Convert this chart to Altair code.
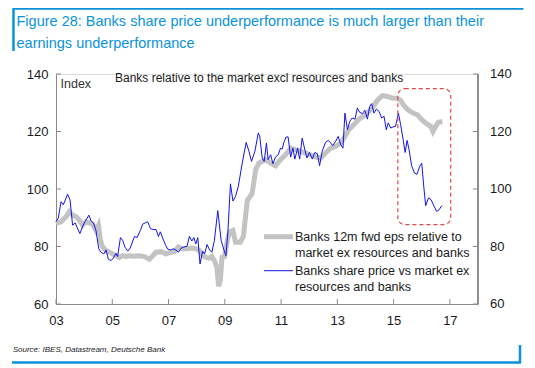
import altair as alt
import pandas as pd

# ---- data ----
blue_year = [2003.00, 2003.08, 2003.18, 2003.26, 2003.41, 2003.50, 2003.59, 2003.68, 2003.75, 2003.85,
             2003.95, 2004.03, 2004.17, 2004.25, 2004.33, 2004.42, 2004.52, 2004.60, 2004.70, 2004.78,
             2004.86, 2004.96, 2005.04, 2005.13, 2005.19, 2005.29, 2005.37, 2005.45, 2005.55, 2005.64,
             2005.79, 2005.88, 2006.00, 2006.08, 2006.17, 2006.26, 2006.36, 2006.45, 2006.56, 2006.64,
             2006.71, 2006.80, 2006.89, 2006.97, 2007.07, 2007.16, 2007.26, 2007.35, 2007.45, 2007.54,
             2007.66, 2007.74, 2007.83, 2007.90, 2007.97, 2008.04, 2008.12, 2008.21, 2008.28, 2008.37,
             2008.46, 2008.54, 2008.63, 2008.75, 2008.87, 2008.97, 2009.04, 2009.11, 2009.20, 2009.29,
             2009.38, 2009.48, 2009.62, 2009.76, 2009.86, 2009.95, 2010.07, 2010.19, 2010.24, 2010.33,
             2010.40, 2010.48, 2010.54, 2010.63, 2010.71, 2010.80, 2010.90, 2010.98, 2011.04, 2011.10,
             2011.18, 2011.25, 2011.34, 2011.42, 2011.49, 2011.59, 2011.66, 2011.75, 2011.84, 2011.92,
             2012.01, 2012.11, 2012.20, 2012.29, 2012.37, 2012.46, 2012.58, 2012.68, 2012.76, 2012.84,
             2012.94, 2013.03, 2013.12, 2013.20, 2013.27, 2013.36, 2013.44, 2013.53, 2013.63, 2013.71,
             2013.79, 2013.89, 2013.98, 2014.07, 2014.15, 2014.22, 2014.30, 2014.39, 2014.48, 2014.58,
             2014.66, 2014.74, 2014.81, 2014.90, 2014.98, 2015.07, 2015.17, 2015.25, 2015.34, 2015.41,
             2015.48, 2015.55, 2015.64, 2015.74, 2015.83, 2015.93, 2016.00, 2016.07, 2016.14, 2016.24,
             2016.33, 2016.44, 2016.53, 2016.62, 2016.71]
blue_val = [88.6, 89.8, 95.6, 94.5, 98.2, 96.2, 87.4, 88.2, 86.6, 84.5,
            87.1, 88.6, 90.9, 88.8, 88.2, 85.6, 79.2, 78.0, 77.4, 78.8,
            75.6, 75.1, 76.0, 77.6, 76.5, 83.1, 82.1, 79.8, 78.4, 79.5,
            83.5, 83.1, 85.6, 87.8, 88.2, 88.6, 86.2, 85.9, 85.9, 83.5,
            85.1, 82.7, 80.6, 79.1, 78.8, 79.2, 78.8, 78.0, 79.4, 79.8,
            80.1, 83.5, 81.9, 83.1, 80.9, 83.1, 73.9, 78.4, 77.4, 80.7,
            78.8, 78.0, 82.1, 92.5, 82.1, 78.8, 76.8, 85.1, 101.8, 95.8,
            97.4, 100.9, 109.0, 116.2, 113.1, 109.6, 113.1, 119.5, 118.5, 110.8,
            109.6, 116.0, 110.2, 111.9, 108.8, 111.1, 111.9, 114.2, 113.9, 116.2,
            118.1, 118.1, 111.1, 114.2, 110.4, 114.2, 110.4, 117.7, 113.9, 110.8,
            112.7, 110.4, 112.7, 112.3, 108.1, 113.1, 116.2, 116.9, 116.0, 115.1,
            116.6, 118.3, 115.4, 114.2, 126.4, 120.6, 123.5, 124.7, 124.3, 128.2,
            126.7, 126.2, 127.4, 124.3, 128.7, 129.7, 126.4, 127.8, 127.0, 124.7,
            125.3, 120.6, 123.0, 121.2, 121.6, 121.8, 126.4, 122.4, 117.1, 112.7,
            116.9, 113.7, 108.1, 105.6, 105.1, 107.9, 109.0, 101.1, 94.2, 96.9,
            96.3, 94.0, 92.2, 92.8, 94.2]

gray_year = [2003.00, 2003.18, 2003.36, 2003.47, 2003.59, 2003.71, 2003.83, 2003.95, 2004.07, 2004.19,
             2004.30, 2004.42, 2004.51, 2004.58, 2004.66, 2004.78, 2004.90, 2005.02, 2005.14, 2005.25,
             2005.37, 2005.49, 2005.61, 2005.79, 2005.97, 2006.14, 2006.32, 2006.44, 2006.56, 2006.74,
             2006.91, 2007.07, 2007.21, 2007.35, 2007.51, 2007.69, 2007.83, 2007.98, 2008.10, 2008.22,
             2008.34, 2008.46, 2008.54, 2008.63, 2008.72, 2008.78, 2008.84, 2008.90, 2008.99, 2009.09,
             2009.17, 2009.29, 2009.38, 2009.55, 2009.66, 2009.80, 2009.97, 2010.10, 2010.21, 2010.45,
             2010.63, 2010.80, 2010.98, 2011.16, 2011.34, 2011.52, 2011.69, 2011.87, 2012.05, 2012.23,
             2012.41, 2012.58, 2012.76, 2012.94, 2013.12, 2013.27, 2013.41, 2013.59, 2013.77, 2013.95,
             2014.13, 2014.27, 2014.42, 2014.60, 2014.78, 2014.96, 2015.13, 2015.25, 2015.37, 2015.53,
             2015.69, 2015.85, 2016.00, 2016.17, 2016.32, 2016.40, 2016.50, 2016.59, 2016.73]
gray_val = [88.0, 88.6, 90.4, 92.1, 90.9, 90.4, 89.2, 87.4, 88.6, 88.2,
            87.8, 85.6, 87.4, 82.1, 79.8, 78.6, 78.0, 77.4, 76.8, 76.2,
            76.8, 76.5, 76.8, 76.6, 76.8, 76.5, 75.6, 76.8, 78.0, 78.2,
            77.4, 78.0, 78.2, 79.8, 79.2, 79.2, 79.5, 79.2, 78.6, 76.8,
            76.2, 76.0, 76.5, 75.1, 72.7, 66.2, 68.0, 76.2, 76.5, 82.1,
            85.1, 85.6, 81.5, 81.5, 83.5, 96.0, 98.4, 106.8, 109.0, 110.2,
            109.0, 108.1, 110.2, 111.9, 114.2, 113.7, 113.1, 112.5, 111.9, 111.1,
            110.8, 112.5, 114.2, 114.8, 116.0, 118.3, 120.6, 122.4, 124.3, 125.5,
            127.0, 128.7, 130.8, 132.5, 132.2, 131.6, 131.6, 130.8, 129.0, 127.4,
            126.4, 125.8, 124.1, 122.7, 121.8, 120.0, 121.8, 123.2, 123.5]

x_ticks = [2003, 2005, 2007, 2009, 2011, 2013, 2015, 2017]
y_ticks = [60, 80, 100, 120, 140]
box_years = [2015.15, 2017.03]
box_vals = [134.9, 87.6]

title_lines = ["Figure 28: Banks share price underperformance is much larger than their",
               "earnings underperformance"]
subtitle = "Banks relative to the market excl resources and banks"
unit_label = "Index"
legend_gray = ["Banks 12m fwd eps relative to", "market ex resources and banks"]
legend_blue = ["Banks share price vs market ex", "resources and banks"]
source_text = "Source: IBES, Datastream, Deutsche Bank"

# ---- styling ----
W, H = 422, 230
FONT = "Liberation Sans"
AX = "#8a8a8a"
DB_BLUE = "#0a93dc"
GRAY = "#c3c3c3"
BLUE = "#1414e6"

xs = alt.Scale(domain=[2003, 2018], nice=False, zero=False)
ys = alt.Scale(domain=[60, 140], nice=False, zero=False)
xaxis = alt.Axis(values=x_ticks, labelExpr="substring(toString(datum.value), 2, 4)", ticks=False,
                 grid=False, title=None, domainColor=AX, domainWidth=1, labelFont=FONT,
                 labelFontSize=13, labelColor="#1a1a1a", labelPadding=10, labelFlush=False)
yaxis = alt.Axis(values=y_ticks, ticks=False, grid=False, title=None, domainColor=AX, domainWidth=1,
                 labelFont=FONT, labelFontSize=13, labelColor="#1a1a1a", labelPadding=8, orient="left")

df_blue = pd.DataFrame({"year": blue_year, "value": blue_val})
df_gray = pd.DataFrame({"year": gray_year, "value": gray_val})
df_xt = pd.DataFrame({"year": x_ticks})
df_yt = pd.DataFrame({"value": y_ticks})
df_box = pd.DataFrame({"year": [box_years[0]], "year2": [box_years[1]],
                       "value": [box_vals[0]], "value2": [box_vals[1]]})

X = alt.X("year:Q", scale=xs, axis=xaxis)
Y = alt.Y("value:Q", scale=ys, axis=yaxis)

gray_line = alt.Chart(df_gray).mark_line(color=GRAY, strokeWidth=5).encode(x=X, y=Y)
blue_line = alt.Chart(df_blue).mark_line(color=BLUE, strokeWidth=1).encode(x=X, y=Y)

box = alt.Chart(df_box).mark_rect(fillOpacity=0, stroke="#e8474a", strokeWidth=1.2,
                                  strokeDash=[4, 3], cornerRadius=7).encode(
    x=X, x2="year2:Q", y=Y, y2="value2:Q")

xtick = alt.Chart(df_xt).mark_rule(color=AX).encode(x=X, y=alt.value(H - 5), y2=alt.value(H))
ytick_l = alt.Chart(df_yt).mark_rule(color=AX).encode(y=Y, x=alt.value(0), x2=alt.value(5))
ytick_r = alt.Chart(df_yt).mark_rule(color=AX).encode(y=Y, x=alt.value(W - 5), x2=alt.value(W))
right_dom = alt.Chart(df_yt).mark_rule(color=AX).encode(x=alt.value(W), y=alt.value(0), y2=alt.value(H))
right_lab = alt.Chart(df_yt).mark_text(align="left", baseline="middle", font=FONT, fontSize=13,
                                       color="#1a1a1a").encode(
    y=Y, x=alt.value(W + 12), text=alt.Text("value:Q", format="d"))

def txt(s, x, y, size=12, color="#1a1a1a", style="normal", align="left"):
    return alt.Chart(df_yt).transform_filter("datum.value == 60").mark_text(
        align=align, baseline="middle", font=FONT, fontSize=size, color=color, fontStyle=style
    ).encode(x=alt.value(x), y=alt.value(y), text=alt.value(s))

def rule(x1, x2, y1, y2, color, width):
    return alt.Chart(df_yt).transform_filter("datum.value == 60").mark_rule(
        color=color, strokeWidth=width).encode(
        x=alt.value(x1), x2=alt.value(x2), y=alt.value(y1), y2=alt.value(y2))

annots = [
    txt(subtitle, 59, 3.5, 12),
    txt(unit_label, 4.5, 9.5, 12.5, "#333333"),
    rule(208, 237, 162.7, 162.7, GRAY, 5),
    txt(legend_gray[0], 239, 162.7, 12.5),
    txt(legend_gray[1], 239, 178.7, 12.5),
    rule(208, 237, 196.7, 196.7, BLUE, 1),
    txt(legend_blue[0], 239, 196.7, 12.5),
    txt(legend_blue[1], 239, 212.7, 12.5),
    txt(title_lines[0], -39.5, -52, 14.5, DB_BLUE),
    txt(title_lines[1], -39.5, -30, 14.5, DB_BLUE),
    rule(-43.3, 467.5, -65.5, -65.5, DB_BLUE, 2.5),
    rule(-42.5, -42.5, -65.5, -23, DB_BLUE, 2.5),
    txt(source_text, -43.3, 276, 8, "#222222", "italic"),
    rule(-44, 465, 288.5, 288.5, DB_BLUE, 2.5),
    rule(464, 464, 271, 288.5, DB_BLUE, 2.5),
]

chart = alt.layer(
    gray_line, blue_line, box, xtick, ytick_l, ytick_r, right_dom, right_lab, *annots
).properties(
    width=W, height=H,
    padding={"left": 48, "top": 66, "right": 49, "bottom": 60},
    autosize=alt.AutoSizeParams(type="none"),
).configure_view(stroke=None).configure(background="white")

chart.save("out.html", embed_options={"renderer": "svg", "actions": False})
